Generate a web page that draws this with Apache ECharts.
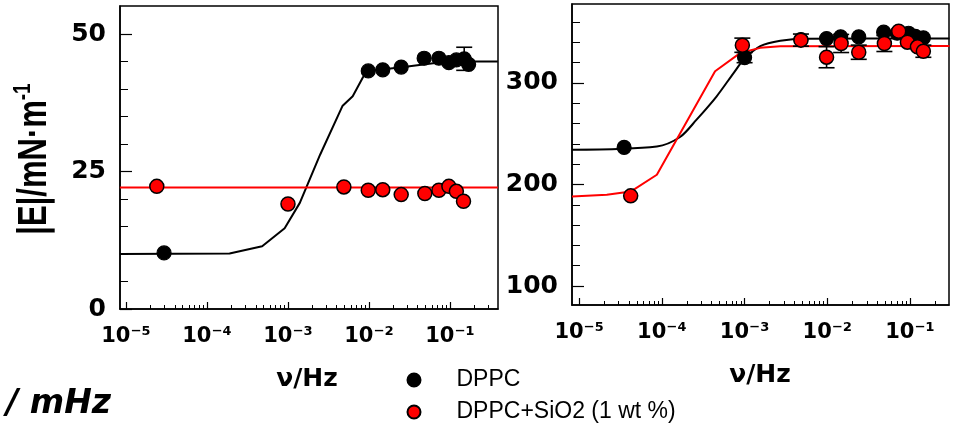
<!DOCTYPE html>
<html>
<head>
<meta charset="utf-8">
<script src="https://cdn.jsdelivr.net/npm/echarts@6/dist/echarts.min.js"></script>
<style>
  html, body { margin: 0; padding: 0; background: #fff; }
  #chart { width: 955px; height: 437px; }
</style>
</head>
<body>
<div id="chart"></div>
<script>
// ---------- Data ----------
// Left panel
const leftBlackX = [2.95e-5, 0.0098, 0.0148, 0.025, 0.048, 0.073, 0.097, 0.12, 0.15, 0.17];
const leftBlackY = [10.2, 43.3, 43.5, 44.0, 45.6, 45.6, 44.8, 45.3, 45.5, 44.5];
const leftRedX = [2.4e-5, 0.001, 0.0049, 0.0098, 0.0148, 0.025, 0.049, 0.073, 0.097, 0.12, 0.147];
const leftRedY = [22.3, 19.1, 22.2, 21.6, 21.7, 20.8, 21.0, 21.6, 22.3, 21.4, 19.6];
const leftBlackFitX = [8.4e-6, 1.9e-4, 4.8e-4, 9.1e-4, 1.4e-3, 2.5e-3, 4.7e-3, 6.3e-3, 8.4e-3, 9.5e-3, 0.024, 0.062, 0.145, 0.39];
const leftBlackFitY = [10.0, 10.1, 11.4, 14.7, 19.3, 28.1, 36.9, 38.7, 42.1, 43.3, 43.9, 44.7, 45.0, 45.0];
const leftRedFitX = [8.4e-6, 0.39];
const leftRedFitY = [22.1, 22.1];
const leftErrX = [0.15];
const leftErrLow = [43.4];
const leftErrHigh = [47.6];

// Right panel
const rightBlackX = [3.5e-5, 1.0e-3, 4.8e-3, 9.8e-3, 0.0145, 0.024, 0.048, 0.07, 0.096, 0.116, 0.145];
const rightBlackY = [236.5, 325.0, 342.8, 343.8, 345.5, 345.5, 350.0, 349.0, 349.0, 346.0, 344.5];
const rightRedX = [4.2e-5, 9.4e-4, 4.8e-3, 9.8e-3, 0.0147, 0.024, 0.049, 0.073, 0.093, 0.123, 0.145];
const rightRedY = [188.8, 337.2, 342.2, 325.4, 338.9, 330.3, 338.9, 351.0, 340.2, 335.6, 331.3];
const rightBlackFitX = [8.2e-6, 8.7e-5, 1.66e-4, 2.63e-4, 4.6e-4, 7.4e-4, 9.8e-4, 1.55e-3, 2.7e-3, 5.6e-3, 0.3];
const rightBlackFitY = [234.3, 237.5, 246.8, 263.9, 286.9, 310.0, 323.1, 336.2, 341.5, 343.5, 343.8];
const rightRedFitX = [8.2e-6, 2.16e-5, 4.2e-5, 8.7e-5, 4.4e-4, 8.9e-4, 1.55e-3, 2.7e-3, 0.3];
const rightRedFitY = [188.2, 189.8, 193.0, 209.6, 311.6, 329.7, 334.6, 336.2, 336.4];
const rightErrX = [1.0e-3, 9.4e-4, 4.8e-3, 9.8e-3, 0.0147, 0.024, 0.049, 0.145];
const rightErrLow = [320.0, 330.2, 336.2, 315.0, 330.0, 323.3, 331.0, 325.3];
const rightErrHigh = [330.0, 344.2, 348.2, 335.8, 347.8, 337.3, 346.8, 337.3];

// Axis ticks / labels
const xDecades = [1e-5, 1e-4, 1e-3, 1e-2, 1e-1];
const xDecadeLabels = ['10⁻⁵', '10⁻⁴', '10⁻³', '10⁻²', '10⁻¹'];
const xMinor = [];
[1e-5, 1e-4, 1e-3, 1e-2, 1e-1].forEach(d => { for (let k = 2; k <= 9; k++) xMinor.push(+(k * d).toPrecision(3)); });
const leftYLabels = [0, 25, 50];
const leftYMinor = [5, 10, 15, 20, 30, 35, 40, 45];
const rightYLabels = [100, 200, 300];
const rightYMinor = [120, 140, 160, 180, 220, 240, 260, 280, 320, 340, 360];

const seriesNames = ['DPPC', 'DPPC+SiO2 (1 wt %)'];
const xTitle = 'ν/Hz';
const yTitle = '|E|/mN·m';

// ---------- Helpers ----------
const zip = (xs, ys) => xs.map((x, i) => [x, ys[i]]);
const zip3 = (xs, a, b) => xs.map((x, i) => [x, a[i], b[i]]);
const BOLD = 'DejaVu Sans';

function decadeLabel(v) {
  const e = Math.round(Math.log10(v));
  const i = xDecades.findIndex(d => Math.round(Math.log10(d)) === e);
  return i >= 0 ? xDecadeLabels[i] : '';
}

function xAxisMain(grid, min, max) {
  return {
    type: 'log', logBase: 10, gridIndex: grid, min: min, max: max, position: 'bottom',
    axisLine: { show: true, lineStyle: { color: '#000', width: 1.5 } },
    axisTick: { show: true, inside: true, length: 7, customValues: xDecades, lineStyle: { color: '#000', width: 1.2 } },
    axisLabel: {
      show: true, margin: 17, customValues: xDecades,
      fontFamily: BOLD, fontWeight: 'bold', fontSize: 21, color: '#000',
      formatter: decadeLabel
    },
    splitLine: { show: false }, minorTick: { show: false }
  };
}
function xAxisMinor(grid, min, max) {
  return {
    type: 'log', logBase: 10, gridIndex: grid, min: min, max: max, position: 'bottom',
    axisLine: { show: false },
    axisTick: { show: true, inside: true, length: 4, customValues: xMinor, lineStyle: { color: '#000', width: 1 } },
    axisLabel: { show: false },
    splitLine: { show: false }
  };
}
function yAxisMain(grid, min, max, labels) {
  return {
    type: 'value', gridIndex: grid, min: min, max: max, position: 'left',
    axisLine: { show: true, lineStyle: { color: '#000', width: 1.5 } },
    axisTick: { show: true, inside: true, length: 12, customValues: labels, lineStyle: { color: '#000', width: 1.2 } },
    axisLabel: { show: true, customValues: labels, margin: 14, fontFamily: BOLD, fontWeight: 'bold', fontSize: 25, color: '#000' },
    splitLine: { show: false }
  };
}
function yAxisMinor(grid, min, max, ticks) {
  return {
    type: 'value', gridIndex: grid, min: min, max: max, position: 'left',
    axisLine: { show: false },
    axisTick: { show: true, inside: true, length: 8, customValues: ticks, lineStyle: { color: '#000', width: 1 } },
    axisLabel: { show: false },
    splitLine: { show: false }
  };
}

function errRender(params, api) {
  const x = api.value(0);
  const top = api.coord([x, api.value(2)]);
  const bot = api.coord([x, api.value(1)]);
  const w = 8;
  const st = { stroke: '#000', lineWidth: 1.6 };
  return {
    type: 'group',
    children: [
      { type: 'line', shape: { x1: top[0], y1: top[1], x2: bot[0], y2: bot[1] }, style: st },
      { type: 'line', shape: { x1: top[0] - w, y1: top[1], x2: top[0] + w, y2: top[1] }, style: st },
      { type: 'line', shape: { x1: bot[0] - w, y1: bot[1], x2: bot[0] + w, y2: bot[1] }, style: st }
    ]
  };
}

function panelSeries(xi, yi, bFit, rFit, err, black, red, smoothB) {
  return [
    { type: 'line', name: 'fit-black-' + xi, xAxisIndex: xi, yAxisIndex: yi, data: bFit, symbol: 'none',
      smooth: smoothB, lineStyle: { color: '#000', width: 2 }, z: 2, silent: true },
    { type: 'line', name: 'fit-red-' + xi, xAxisIndex: xi, yAxisIndex: yi, data: rFit, symbol: 'none',
      lineStyle: { color: '#ff0000', width: 2 }, z: 2, silent: true },
    { type: 'custom', name: 'err-' + xi, xAxisIndex: xi, yAxisIndex: yi, data: err, renderItem: errRender,
      encode: { x: 0, y: [1, 2] }, z: 3, silent: true },
    { type: 'scatter', name: seriesNames[0], xAxisIndex: xi, yAxisIndex: yi, data: black, symbol: 'circle', symbolSize: 14,
      itemStyle: { color: '#000', borderColor: '#000', borderWidth: 1.2, opacity: 1 }, z: 4 },
    { type: 'scatter', name: seriesNames[1], xAxisIndex: xi, yAxisIndex: yi, data: red, symbol: 'circle', symbolSize: 14,
      itemStyle: { color: '#ff0000', borderColor: '#000', borderWidth: 1.5, opacity: 1 }, z: 5 }
  ];
}

const LMIN = 8.43e-6, LMAX = 0.392, RMIN = 8.2e-6, RMAX = 0.296;

const option = {
  animation: false,
  backgroundColor: '#fff',
  grid: [
    { left: 120, top: 6, width: 378, height: 303, show: true, borderColor: '#000', borderWidth: 1.5, backgroundColor: 'transparent' },
    { left: 572, top: 4, width: 377, height: 301, show: true, borderColor: '#000', borderWidth: 1.5, backgroundColor: 'transparent' }
  ],
  xAxis: [
    xAxisMain(0, LMIN, LMAX), xAxisMinor(0, LMIN, LMAX),
    xAxisMain(1, RMIN, RMAX), xAxisMinor(1, RMIN, RMAX)
  ],
  yAxis: [
    yAxisMain(0, 0, 55.1, leftYLabels), yAxisMinor(0, 0, 55.1, leftYMinor),
    yAxisMain(1, 81.3, 377.8, rightYLabels), yAxisMinor(1, 81.3, 377.8, rightYMinor)
  ],
  legend: {
    show: true, orient: 'vertical', left: 406.5, top: 367, padding: 0,
    itemWidth: 13, itemHeight: 13, itemGap: 6, icon: 'circle',
    data: seriesNames,
    textStyle: { fontFamily: 'Liberation Sans', fontSize: 23, color: '#000', lineHeight: 26, padding: [0, 0, 0, 31] },
    selectedMode: false
  },
  graphic: [
    { type: 'group', x: 33, y: 159, rotation: Math.PI / 2,
      children: [
        { type: 'text', x: 0, y: 0, scaleX: 1, scaleY: 1.3,
          style: { text: '{a|' + yTitle + '}{s|-1}', align: 'center', verticalAlign: 'middle',
            rich: {
              a: { fontFamily: 'Liberation Sans', fontWeight: 'bold', fontSize: 31, fill: '#000', lineHeight: 34, verticalAlign: 'bottom' },
              s: { fontFamily: 'Liberation Sans', fontWeight: 'bold', fontSize: 19, fill: '#000', lineHeight: 18, verticalAlign: 'top' }
            } } }
      ] },
    { type: 'text', x: 307, y: 379, style: { text: xTitle, align: 'center', verticalAlign: 'middle',
        fontFamily: BOLD, fontWeight: 'bold', fontSize: 25, fill: '#000' } },
    { type: 'text', x: 760, y: 375, style: { text: xTitle, align: 'center', verticalAlign: 'middle',
        fontFamily: BOLD, fontWeight: 'bold', fontSize: 25, fill: '#000' } },
    { type: 'text', x: 111, y: 404, style: { text: '/ mHz', align: 'right', verticalAlign: 'middle',
        fontFamily: BOLD, fontWeight: 'bold', fontStyle: 'italic', fontSize: 33, fill: '#000' } }
  ],
  series: [].concat(
    panelSeries(0, 0, zip(leftBlackFitX, leftBlackFitY), zip(leftRedFitX, leftRedFitY),
      zip3(leftErrX, leftErrLow, leftErrHigh), zip(leftBlackX, leftBlackY), zip(leftRedX, leftRedY), false),
    panelSeries(2, 2, zip(rightBlackFitX, rightBlackFitY), zip(rightRedFitX, rightRedFitY),
      zip3(rightErrX, rightErrLow, rightErrHigh), zip(rightBlackX, rightBlackY), zip(rightRedX, rightRedY), 0.3)
  )
};

const chart = echarts.init(document.getElementById('chart'), null, { renderer: 'canvas' });
chart.setOption(option);
</script>
</body>
</html>
